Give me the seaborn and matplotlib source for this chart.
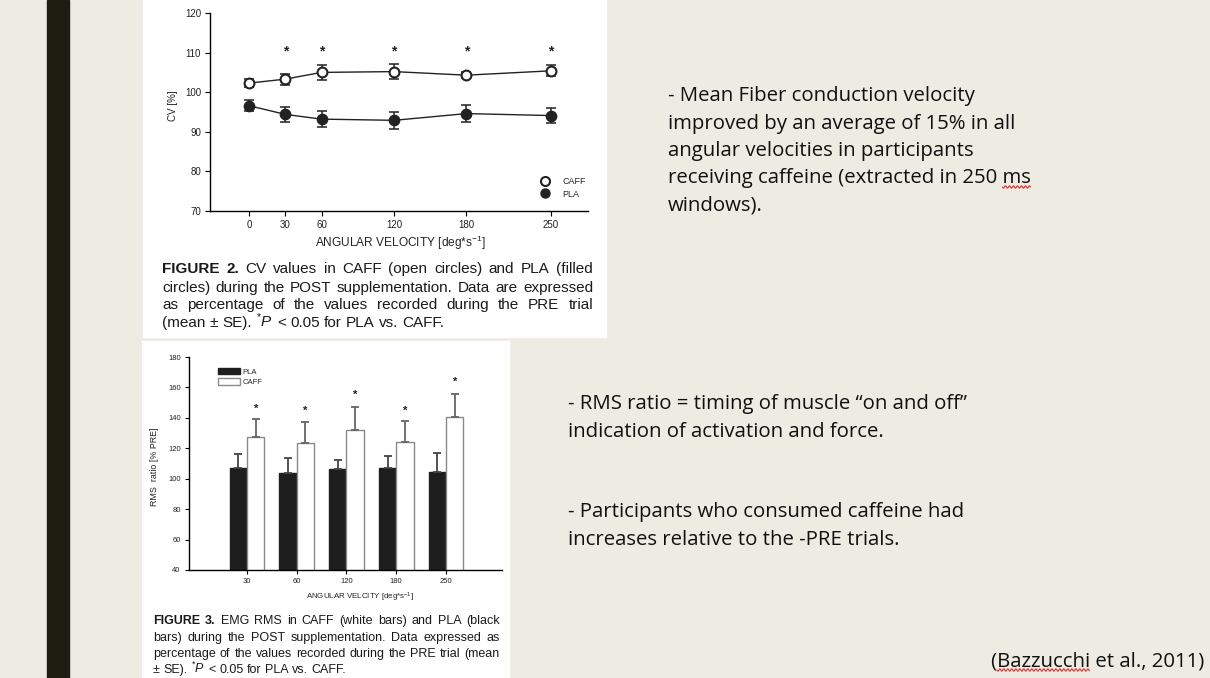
import matplotlib
matplotlib.use("Agg")
import matplotlib.pyplot as plt
import seaborn as sns
import pandas as pd
import numpy as np
from matplotlib.patches import Rectangle, Patch
from matplotlib.lines import Line2D

# FIGURE 2 - conduction velocity (% of PRE), mean +- SE
cv_angles = [0, 30, 60, 120, 180, 250]
cv_caff = [102.3, 103.3, 105.0, 105.2, 104.3, 105.4]
cv_caff_se = [1.0, 1.4, 1.8, 1.8, 0.8, 1.4]
cv_pla = [96.6, 94.4, 93.2, 92.9, 94.6, 94.1]
cv_pla_se = [1.4, 1.9, 2.0, 2.2, 2.1, 2.0]
cv_sig = [30, 60, 120, 180, 250]
cv_star_y = 110.4

# FIGURE 3 - EMG RMS ratio (% PRE), bars with upper SE
rms_angles = ["30", "60", "120", "180", "250"]
rms_pla = [107.2, 103.9, 106.5, 107.2, 104.4]
rms_pla_se = [9.1, 9.8, 5.5, 7.7, 12.5]
rms_caff = [127.5, 123.6, 132.3, 124.3, 140.7]
rms_caff_se = [11.8, 14.0, 15.1, 13.6, 15.2]
rms_star_y = [146.0, 144.3, 155.3, 144.5, 163.6]

cap2 = ["FIGURE 2. CV values in CAFF (open circles) and PLA (filled",
        "circles) during the POST supplementation. Data are expressed",
        "as percentage of the values recorded during the PRE trial",
        "(mean \u00b1 SE). $^{*}\\mathit{P}$ < 0.05 for PLA vs. CAFF."]
cap3 = ["FIGURE 3. EMG RMS in CAFF (white bars) and PLA (black",
        "bars) during the POST supplementation. Data expressed as",
        "percentage of the values recorded during the PRE trial (mean",
        "\u00b1 SE). $^{*}\\mathit{P}$ < 0.05 for PLA vs. CAFF."]

notes1 = ["- Mean Fiber conduction velocity",
          "improved by an average of 15% in all",
          "angular velocities in participants",
          "receiving caffeine (extracted in 250 ms",
          "windows)."]
notes2 = ["- RMS ratio = timing of muscle \u201con and off\u201d",
          "indication of activation and force.",
          "- Participants who consumed caffeine had",
          "increases relative to the -PRE trials."]
citation = "(Bazzucchi et al., 2011)"

W, H = 1210, 678
BG = "#eeebe3"


def fx(x):
    return x / W


def fy(y):
    return 1 - y / H


def axes_px(fig, left, top, right, bottom):
    return fig.add_axes([fx(left), fy(bottom), (right - left) / W, (bottom - top) / H])


sns.set_theme(style="ticks")
plt.rcParams["font.family"] = ["Liberation Sans", "DejaVu Sans"]
plt.rcParams["mathtext.fontset"] = "custom"
plt.rcParams["mathtext.rm"] = "Liberation Sans"
plt.rcParams["mathtext.it"] = "Liberation Sans:italic"
plt.rcParams["mathtext.bf"] = "Liberation Sans:bold"

fig = plt.figure(figsize=(W / 100, H / 100), dpi=100, facecolor=BG)
renderer = fig.canvas.get_renderer()

# slide decoration + white figure panels (behind the axes)
fig.patches.append(Rectangle((fx(47), 0), 22 / W, 1, transform=fig.transFigure,
                             color="#1c1c10", zorder=-5))
fig.patches.append(Rectangle((fx(143), fy(337)), 463 / W, 337 / H, transform=fig.transFigure,
                             color="white", zorder=-5))
fig.patches.append(Rectangle((fx(142), 0), 367 / W, 337 / H, transform=fig.transFigure,
                             color="white", zorder=-5))


def style_axes(ax, tick_fs, tick_len):
    sns.despine(ax=ax)
    ax.set_facecolor("none")
    for s in ["left", "bottom"]:
        ax.spines[s].set_color("black")
        ax.spines[s].set_linewidth(1)
    ax.tick_params(labelsize=tick_fs, length=tick_len, width=0.8, color="black",
                   labelcolor="#222222", pad=3)


# ---------- FIGURE 2 ----------
ax1 = axes_px(fig, 210, 13, 588, 211)
cv_df = pd.DataFrame({"angle": cv_angles * 2, "cv": cv_caff + cv_pla,
                      "group": ["CAFF"] * 6 + ["PLA"] * 6})
sns.lineplot(data=cv_df, x="angle", y="cv", hue="group",
             palette={"CAFF": "#222222", "PLA": "#222222"}, lw=1, legend=False, ax=ax1)
ax1.errorbar(cv_angles, cv_caff, yerr=cv_caff_se, fmt="none", ecolor="#222222",
             elinewidth=1.1, capsize=3.5, capthick=1.1, zorder=3)
ax1.errorbar(cv_angles, cv_pla, yerr=cv_pla_se, fmt="none", ecolor="#222222",
             elinewidth=1.1, capsize=3.5, capthick=1.1, zorder=3)
sns.scatterplot(x=cv_angles, y=cv_caff, marker="o", s=50, color="white",
                edgecolor="#222222", linewidth=1.5, ax=ax1, zorder=4)
sns.scatterplot(x=cv_angles, y=cv_pla, marker="o", s=55, color="#222222",
                edgecolor="#222222", linewidth=1, ax=ax1, zorder=4)
for a in cv_sig:
    ax1.text(a, cv_star_y, "*", ha="center", va="center", fontsize=10,
             fontweight="bold", color="#222222")

ax1.set_xlim(-32.3, 280.6)
ax1.set_ylim(70, 120)
ax1.set_xticks(cv_angles)
ax1.set_yticks(range(70, 121, 10))
style_axes(ax1, 7, 3.5)
ax1.set_xlabel("ANGULAR VELOCITY [deg*s$^{\\mathregular{-1}}$]", fontsize=8.6, color="#222222")
ax1.xaxis.set_label_coords(0.503, -0.162)
ax1.xaxis.label.set_va("center")
ax1.set_ylabel("CV [%]", fontsize=7, color="#222222")
ax1.yaxis.set_label_coords(-0.098, 0.53)
ax1.yaxis.label.set_va("center")

handles = [Line2D([], [], ls="none", marker="o", ms=6.5, mfc="white", mec="#222222", mew=1.5),
           Line2D([], [], ls="none", marker="o", ms=6.5, mfc="#222222", mec="#222222")]
ax1.legend(handles, ["CAFF", "PLA"], loc="center left", bbox_to_anchor=(0.874, 0.116),
           frameon=False, fontsize=6.5, handlelength=1, handletextpad=1.4,
           labelspacing=0.35, borderpad=0, borderaxespad=0)

# ---------- FIGURE 3 ----------
ax2 = axes_px(fig, 189, 357, 502, 570)
rms_df = pd.DataFrame({"angle": rms_angles * 2, "rms": rms_pla + rms_caff,
                       "group": ["PLA"] * 5 + ["CAFF"] * 5})
sns.barplot(data=rms_df, x="angle", y="rms", hue="group", hue_order=["PLA", "CAFF"],
            palette={"PLA": "#1e1e1e", "CAFF": "white"}, width=0.7, gap=0,
            errorbar=None, linewidth=1, edgecolor="#1e1e1e", ax=ax2, legend=False)
for bar in ax2.containers[1]:
    bar.set_edgecolor("#8a8a8a")

for cont, vals, se, col in [(ax2.containers[0], rms_pla, rms_pla_se, "#444444"),
                            (ax2.containers[1], rms_caff, rms_caff_se, "#666666")]:
    xs = [b.get_x() + b.get_width() / 2 for b in cont]
    ax2.errorbar(xs, vals, yerr=[np.zeros(len(se)), se], fmt="none", ecolor=col,
                 elinewidth=1.3, capsize=3, capthick=1.3, zorder=3)
xs_caff = [b.get_x() + b.get_width() / 2 for b in ax2.containers[1]]
for x, y in zip(xs_caff, rms_star_y):
    ax2.text(x, y, "*", ha="center", va="center", fontsize=8,
             fontweight="bold", color="#222222")

ax2.set_xlim(-1.166, 5.126)
ax2.set_ylim(40, 180)
ax2.set_yticks(range(40, 181, 20))
style_axes(ax2, 5.5, 3)
ax2.set_xlabel("ANGULAR VELCITY [deg*s$^{\\mathregular{-1}}$]", fontsize=5.7, color="#222222")
ax2.xaxis.set_label_coords(0.546, -0.127)
ax2.xaxis.label.set_va("center")
ax2.set_ylabel("RMS  ratio [% PRE]", fontsize=6.4, color="#222222")
ax2.yaxis.set_label_coords(-0.109, 0.484)
ax2.yaxis.label.set_va("center")

bar_handles = [Patch(facecolor="#1e1e1e", edgecolor="#1e1e1e"),
               Patch(facecolor="white", edgecolor="#8a8a8a")]
ax2.legend(bar_handles, ["PLA", "CAFF"], loc="center left", bbox_to_anchor=(0.093, 0.906),
           frameon=False, fontsize=5.5, handlelength=2.9, handleheight=0.9,
           handletextpad=0.3, labelspacing=0.3, borderpad=0, borderaxespad=0)


# ---------- captions (justified like the journal layout) ----------
def caption(lines, left, right, baselines, size):
    em = size * fig.dpi / 72
    for k, (line, yb) in enumerate(zip(lines, baselines)):
        words = line.split(" ")
        items = []
        for i, w in enumerate(words):
            bold = line.startswith("FIGURE") and i < 2
            items.append(fig.text(0, fy(yb), w, fontsize=size, color="#1a1a1a",
                                  fontweight="bold" if bold else "normal",
                                  ha="left", va="baseline"))
        widths = [t.get_window_extent(renderer).width for t in items]
        if k < len(lines) - 1:
            gap = (right - left - sum(widths)) / (len(items) - 1)
        else:
            gap = 0.278 * em
        x = left
        for t, w in zip(items, widths):
            t.set_x(fx(x))
            x += w + gap


caption(cap2, 162, 593, [273, 292, 309, 327], 11.0)
caption(cap3, 153, 500, [624, 641, 657, 673], 9.0)


# ---------- slide notes ----------
def fit_size(text, target_px, family):
    t = fig.text(0, 0, text, fontsize=10, family=family)
    w = t.get_window_extent(renderer).width
    t.remove()
    return 10 * target_px / w


def squiggle(txt, word, y):
    # red spell-check underline under one word of a slide note
    full = txt.get_text()
    i = full.index(word)
    probe = fig.text(0, 0, full[:i], fontsize=txt.get_fontsize(), family=txt.get_fontfamily())
    x0 = txt.get_window_extent(renderer).x0 + probe.get_window_extent(renderer).width
    probe.set_text(word)
    x1 = x0 + probe.get_window_extent(renderer).width
    probe.remove()
    xs = np.arange(x0, x1, 0.5)
    ys = y + 1.2 * np.sin((xs - x0) * np.pi / 2)
    fig.lines.append(Line2D(fx(xs), fy(ys), transform=fig.transFigure,
                            color="#e03030", lw=0.8))


note_font = "Open Sans"
note_fs = fit_size(notes1[0], 307, note_font)
note_txt = []
for s, yb in zip(notes1, [101, 129, 156, 183, 210]):
    note_txt.append(fig.text(fx(668), fy(yb), s, fontsize=note_fs, family=note_font,
                             color="#111111", ha="left", va="baseline"))
for s, yb in zip(notes2, [409, 437, 517, 545]):
    fig.text(fx(568), fy(yb), s, fontsize=note_fs, family=note_font,
             color="#111111", ha="left", va="baseline")
cite = fig.text(fx(1204), fy(666), citation, fontsize=note_fs, family=note_font,
                color="#111111", ha="right", va="baseline")

squiggle(note_txt[3], "ms", 187)
squiggle(cite, "Bazzucchi", 670)

fig.savefig("out.png", dpi=100, facecolor=BG)
